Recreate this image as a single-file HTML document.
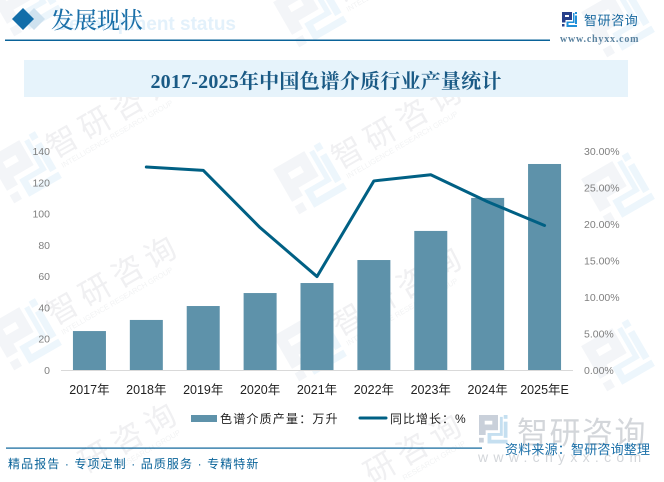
<!DOCTYPE html>
<html lang="zh">
<head>
<meta charset="utf-8">
<title>2017-2025年中国色谱介质行业产量统计</title>
<style>
html,body{margin:0;padding:0;background:#fff;width:664px;height:482px;overflow:hidden;}
#stage{display:block;width:664px;height:482px;overflow:hidden;}
.sans{font-family:"Liberation Sans","Noto Sans CJK SC",sans-serif;}
.serif{font-family:"Liberation Serif","Noto Serif CJK SC",serif;}
</style>
</head>
<body>
<svg id="stage" xmlns="http://www.w3.org/2000/svg" width="664" height="482" viewBox="0 0 664 482">
  <g id="watermarks"></g>

  <g>
    <g id="bigLogo"></g>
    <text class="sans" x="517" y="444" font-size="31" letter-spacing="1.500" fill="#d3d6da">智研咨询</text>
    <text class="sans" x="478" y="462" font-size="14" letter-spacing="5.300" fill="#d3d6da">www.chyxx.com</text>
  </g>

  <text class="sans" x="236" y="30" text-anchor="end" font-size="19" font-weight="bold" fill="#e3f1fb">Development status</text>
  <polygon points="34,8 45,19 34,30 23,19" fill="#cfe2ef"/>
  <polygon points="23,8 34,19 23,30 12,19" fill="#136ea9"/>
  <text class="serif" x="51" y="28" font-size="23" font-weight="500" fill="#1a6fa8">发展现状</text>
  <rect x="5" y="39.500" width="545" height="1.500" fill="#0a6399"/>

  <g id="topLogo"></g>
  <text class="sans" x="584" y="25" font-size="13" letter-spacing="0.600" fill="#1a6aa0">智研咨询</text>
  <text class="serif" x="560" y="42" font-size="10" font-weight="bold" letter-spacing="0.800" fill="#5a829f">www.chyxx.com</text>

  <rect x="24" y="60" width="604" height="37" fill="#e6f3fb"/>
  <text class="serif" x="326" y="88" text-anchor="middle" font-size="20" font-weight="bold" letter-spacing="0.200" fill="#1a5a85">2017-2025年中国色谱介质行业产量统计</text>

  <g id="chart"></g>

  <g>
    <g>
      <rect x="191" y="415" width="26" height="7" fill="#5e92aa"/>
      <text class="sans" x="220" y="423" font-size="12" letter-spacing="1.200" fill="#222">色谱介质产量：万升</text>
    </g>
    <g>
      <line x1="360" y1="418" x2="386" y2="418" stroke="#006084" stroke-width="3" stroke-linecap="round"/>
      <text class="sans" x="390" y="423" font-size="12" letter-spacing="1" fill="#222">同比增长：%</text>
    </g>
  </g>

  <rect x="6" y="447.500" width="476" height="1.200" fill="#0a6399"/>
  <text class="sans" x="8" y="468" font-size="12" letter-spacing="1.100" fill="#0a6399">精品报告 · 专项定制 · 品质服务 · 专精特新</text>
  <text class="sans" x="505" y="454" font-size="13" letter-spacing="0.200" fill="#1a6fa8">资料来源：智研咨询整理</text>
</svg>

<script>
var categories = ['2017年','2018年','2019年','2020年','2021年','2022年','2023年','2024年','2025年E'];
var outputValues = [24.9, 32, 40.9, 49.2, 55.6, 70.3, 88.9, 110, 131.7];
var growthValues = [null, 27.8, 27.35, 19.5, 12.8, 25.9, 26.75, 23.05, 19.8];
var leftTicks = [0, 20, 40, 60, 80, 100, 120, 140];
var rightTicks = [0, 5, 10, 15, 20, 25, 30];

var NS = 'http://www.w3.org/2000/svg';
var plotLeft = 61, plotRight = 573, plotBottom = 370, plotTop = 151;
var leftMax = 140, rightMax = 30;

function yLeft(v) { return plotBottom - (v / leftMax) * (plotBottom - plotTop); }
function yRight(v) { return plotBottom - (v / rightMax) * (plotBottom - plotTop); }
function xCat(i) { return plotLeft + (i + 0.5) * (plotRight - plotLeft) / categories.length; }

function mk(parent, tag, attrs, txt) {
  var el = document.createElementNS(NS, tag);
  for (var k in attrs) el.setAttribute(k, attrs[k]);
  if (txt !== undefined) el.textContent = txt;
  parent.appendChild(el);
  return el;
}

function drawLogo(parent, x, y, s, c1, c2) {
  var g = mk(parent, 'g', {transform: 'translate(' + x + ',' + y + ') scale(' + s + ')'});
  
  
  mk(g, 'path', {d: 'M0 0H10V8H3.500V10.500H0Z M3 3H7V5H3Z', fill: c1, 'fill-rule': 'evenodd'});
  mk(g, 'rect', {x: 0, y: 12, width: 2.5, height: 2.5, fill: c1});
  mk(g, 'path', {d: 'M4.500 9.500H11V1H12.500V11H6.500V13H15V15H4.500Z', fill: c2});
  mk(g, 'rect', {x: 13, y: 0, width: 2, height: 2, fill: c2});
  mk(g, 'rect', {x: 13, y: 3.500, width: 2, height: 8.500, fill: c2});
  return g;
}

var wmLayer = document.getElementById('watermarks');
var columns = [[25, 1], [310, 12], [618, 22]];
for (var c = 0; c < columns.length; c++) {
  for (var r = 0; r < 4; r++) {
    var ux = columns[c][0], uy = columns[c][1] + r * 167;
    var lowest = uy > 470;
    var unit = mk(wmLayer, 'g', {transform: 'translate(' + ux + ',' + uy + ') rotate(-30)'});
    
    
    if (!lowest) {
      drawLogo(unit, -27, -27, 3.6, '#f3f5f8', '#edf6fc');
    }
    if (c < 2) {
      var wmName = mk(unit, 'text', {x: lowest ? 67.5 : 30, y: 7, 'font-size': 31, 'letter-spacing': 6.5, fill: '#f0f0f2', 'class': 'sans'}, lowest ? '研咨询' : '智研咨询');
      
      
      var wmSub = mk(unit, 'text', {x: lowest ? 98 : 33, y: 19, 'font-size': 7.5, fill: '#f2f3f4', 'class': 'sans'}, lowest ? 'RESEARCH GROUP' : 'INTELLIGENCE RESEARCH GROUP');
      
      
    }
  }
}

drawLogo(document.getElementById('bigLogo'), 479, 415, 1.900, '#c9d0da', '#c5dff0');
drawLogo(document.getElementById('topLogo'), 562, 12, 1, '#27408b', '#1f8fd8');

var chart = document.getElementById('chart');
var barWidth = 33;

for (var i = 0; i < outputValues.length; i++) {
  var bar = mk(chart, 'rect', {
    x: xCat(i) - barWidth / 2,
    y: yLeft(outputValues[i]),
    width: barWidth,
    height: plotBottom - yLeft(outputValues[i]),
    fill: '#5e92aa'
  });
  
  
}

var baseline = mk(chart, 'line', {x1: plotLeft, y1: plotBottom + 0.5, x2: plotRight, y2: plotBottom + 0.5, stroke: '#d9d9d9', 'stroke-width': 1});



var pts = [];
for (var j = 0; j < growthValues.length; j++) {
  if (growthValues[j] !== null) pts.push(xCat(j) + ',' + yRight(growthValues[j]));
}
var growthLine = mk(chart, 'polyline', {points: pts.join(' '), fill: 'none', stroke: '#006084', 'stroke-width': 3, 'stroke-linecap': 'round', 'stroke-linejoin': 'round'});



for (var a = 0; a < leftTicks.length; a++) {
  var lt = mk(chart, 'text', {x: 50, y: yLeft(leftTicks[a]) + 4, 'text-anchor': 'end', 'font-size': 10.500, fill: '#7f7f7f', 'class': 'sans'}, String(leftTicks[a]));
  
  
}
for (var b = 0; b < rightTicks.length; b++) {
  var rt = mk(chart, 'text', {x: 584, y: yRight(rightTicks[b]) + 4, 'font-size': 10.500, fill: '#7f7f7f', 'class': 'sans'}, rightTicks[b].toFixed(2) + '%');
  
  
}
for (var d = 0; d < categories.length; d++) {
  var xt = mk(chart, 'text', {x: xCat(d), y: 394, 'text-anchor': 'middle', 'font-size': 12.500, fill: '#222', 'class': 'sans'}, categories[d]);
  
  
}
</script>
</body>
</html>
